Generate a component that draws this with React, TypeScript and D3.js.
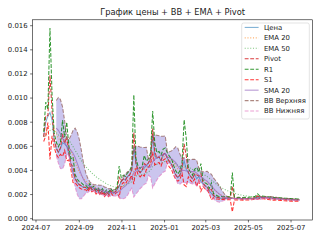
import { useRef, useEffect } from 'react';
import { select, scaleUtc, scaleLinear, line, area, utcDay, utcParse, mean, deviation } from 'd3';

const startDate = '2024-07-12';
const stepDays = 3;

const close = [
    0.0068, 0.0080, 0.0085, 0.0088, 0.0082, 0.0065, 0.0058, 0.0055, 0.0058, 0.0063,
    0.0062, 0.0060, 0.0054, 0.0045, 0.0038, 0.0033, 0.0030, 0.0028, 0.0027, 0.0026,
    0.0026, 0.0024, 0.0027, 0.0024, 0.0025, 0.0022, 0.0024, 0.0021, 0.0023, 0.0020,
    0.0022, 0.0020, 0.0023, 0.0021, 0.0022, 0.0024, 0.0027, 0.0031, 0.0033, 0.0032,
    0.0035, 0.0036, 0.0040, 0.0060, 0.0046, 0.0040, 0.0038, 0.0040, 0.0042, 0.0044,
    0.0046, 0.0050, 0.0070, 0.0052, 0.0050, 0.0051, 0.0048, 0.0053, 0.0054, 0.0050,
    0.0047, 0.0045, 0.0040, 0.0036, 0.0034, 0.0036, 0.0042, 0.0048, 0.0041, 0.0038,
    0.0035, 0.0033, 0.0037, 0.0033, 0.0035, 0.0031, 0.0029, 0.0027, 0.0026, 0.0023,
    0.0021, 0.0019, 0.0018, 0.00175, 0.0017, 0.0017, 0.0017, 0.00168, 0.0017, 0.00168,
    0.0017, 0.00166, 0.00165, 0.00166, 0.00165, 0.00164, 0.00166, 0.00165, 0.00166, 0.00168,
    0.0017, 0.00174, 0.0018, 0.00178, 0.00176, 0.00175, 0.00172, 0.0017, 0.00168, 0.00166,
    0.00164, 0.00165, 0.00163, 0.00162, 0.0016, 0.00159, 0.00158, 0.00157, 0.00156, 0.00155,
    0.00154, 0.00154, 0.00153,
];
const high = [
    0.0072, 0.0102, 0.0091, 0.0189, 0.0110, 0.0072, 0.0064, 0.0060, 0.0064, 0.0089,
    0.0068, 0.0088, 0.0060, 0.0050, 0.0056, 0.0037, 0.0033, 0.0031, 0.0030, 0.0028,
    0.0028, 0.0026, 0.0029, 0.0026, 0.0027, 0.0024, 0.0026, 0.0023, 0.0025, 0.0022,
    0.0024, 0.0022, 0.0025, 0.0023, 0.0024, 0.0026, 0.0051, 0.0034, 0.0036, 0.0035,
    0.0038, 0.0040, 0.0044, 0.0114, 0.0050, 0.0044, 0.0042, 0.0044, 0.0056, 0.0048,
    0.0050, 0.0055, 0.0094, 0.0066, 0.0055, 0.0056, 0.0053, 0.0058, 0.0059, 0.0055,
    0.0052, 0.0050, 0.0044, 0.0040, 0.0037, 0.0040, 0.0047, 0.0096, 0.0078, 0.0042,
    0.0039, 0.0036, 0.0041, 0.0046, 0.0039, 0.0052, 0.0032, 0.0030, 0.0029, 0.0025,
    0.0033, 0.0021, 0.0020, 0.0019, 0.00185, 0.00185, 0.00185, 0.0018, 0.00185, 0.0018,
    0.0048, 0.00178, 0.00176, 0.00178, 0.00176, 0.00175, 0.00178, 0.00176, 0.00178, 0.0018,
    0.00182, 0.00186, 0.00215, 0.0019, 0.00188, 0.00186, 0.00184, 0.00182, 0.0018, 0.00186,
    0.00175, 0.00176, 0.00174, 0.00173, 0.00171, 0.0017, 0.00169, 0.00168, 0.00167, 0.00166,
    0.00165, 0.00164, 0.00163,
];
const low = [
    0.0064, 0.0074, 0.0080, 0.0080, 0.0076, 0.0060, 0.0054, 0.0051, 0.0054, 0.0059,
    0.0057, 0.0056, 0.0049, 0.0041, 0.0035, 0.0030, 0.0028, 0.0026, 0.0025, 0.0024,
    0.0024, 0.00225, 0.0025, 0.00225, 0.00235, 0.00205, 0.00225, 0.00195, 0.00215, 0.00185,
    0.00205, 0.00185, 0.00215, 0.00195, 0.00205, 0.0022, 0.0025, 0.0028, 0.0030, 0.0029,
    0.0032, 0.0033, 0.0036, 0.0040, 0.0042, 0.0037, 0.0035, 0.0037, 0.0039, 0.0041,
    0.0043, 0.0046, 0.0060, 0.0048, 0.0046, 0.0047, 0.0044, 0.0049, 0.0050, 0.0046,
    0.0043, 0.0041, 0.0036, 0.0033, 0.0031, 0.0033, 0.0038, 0.0042, 0.0038, 0.0035,
    0.0032, 0.0030, 0.0033, 0.0030, 0.0032, 0.0029, 0.0027, 0.0025, 0.0024, 0.0021,
    0.0019, 0.00175, 0.00165, 0.00165, 0.0016, 0.0016, 0.0016, 0.00158, 0.0016, 0.00158,
    0.00155, 0.00156, 0.00155, 0.00156, 0.00155, 0.00154, 0.00156, 0.00155, 0.00156, 0.00158,
    0.0016, 0.00164, 0.0017, 0.00168, 0.00166, 0.00165, 0.00162, 0.0016, 0.00158, 0.00156,
    0.00154, 0.00155, 0.00153, 0.00152, 0.0015, 0.00149, 0.00148, 0.00147, 0.00146, 0.00145,
    0.00144, 0.00145, 0.00144,
];

const xTicks = ['2024-07', '2024-09', '2024-11', '2025-01', '2025-03', '2025-05', '2025-07'];
const yTicks = [0, 0.002, 0.004, 0.006, 0.008, 0.01, 0.012, 0.014, 0.016];
const title = 'График цены + BB + EMA + Pivot';

// Indicators (20 / 50 day windows converted to the 3-day step)
const win = Math.round(20 / stepDays);
function ema(values: number[], span: number) {
    const a = 1 - Math.pow(1 - 2 / (span + 1), stepDays);
    let prev = values[0];
    return values.map((v, i) => (prev = i === 0 ? v : prev + a * (v - prev)));
}
function rolling(values: number[], fn: (w: number[]) => number | undefined) {
    return values.map((_, i) => (i < win - 1 ? null : (fn(values.slice(i - win + 1, i + 1)) as number)));
}
const pivot = close.map((c, i) => (high[i] + low[i] + c) / 3);
const r1 = pivot.map((p, i) => 2 * p - low[i]);
const s1 = pivot.map((p, i) => 2 * p - high[i]);
const ema20 = ema(close, 20);
const ema50 = ema(close, 50);
const sma20 = rolling(close, mean);
const sd20 = rolling(close, deviation);
const bbUpper = sma20.map((m, i) => (m == null ? null : m + 2 * (sd20[i] as number)));
const bbLower = sma20.map((m, i) => (m == null ? null : m - 2 * (sd20[i] as number)));

function App() {
    const svgRef = useRef<SVGSVGElement | null>(null);

    const width = 320;
    const height = 240;
    const left = 32.5;
    const right = 312.7;
    const top = 19.8;
    const bottom = 220;
    const font = 'DejaVu Sans, sans-serif';

    useEffect(() => {
        const svg = select(svgRef.current);
        svg.selectAll('*').remove();

        const parseDay = utcParse('%Y-%m-%d');
        const parseMonth = utcParse('%Y-%m');
        const start = parseDay(startDate) as Date;
        const dates = close.map((_, i) => utcDay.offset(start, i * stepDays));

        const x = scaleUtc()
            .domain([parseDay('2024-06-26') as Date, parseDay('2025-08-01') as Date])
            .range([left, right]);
        const y = scaleLinear().domain([-0.00011, 0.01649]).range([bottom, top]);

        // Bollinger fill
        const band = area<number>()
            .defined((i) => sma20[i] != null)
            .x((i) => x(dates[i]))
            .y0((i) => y(bbLower[i] as number))
            .y1((i) => y(bbUpper[i] as number));
        svg.append('path')
            .attr('d', band(close.map((_, i) => i)) ?? '')
            .attr('fill', '#6a5acd')
            .attr('fill-opacity', 0.35);

        const series = [
            { label: 'Цена', values: close, color: '#1f77b4', dash: '', opacity: 0.6 },
            { label: 'EMA 20', values: ema20, color: '#ff7f0e', dash: '1.04,1.72', opacity: 0.6 },
            { label: 'EMA 50', values: ema50, color: '#2ca02c', dash: '1.04,1.72', opacity: 0.6 },
            { label: 'Pivot', values: pivot, color: '#d62728', dash: '3.85,1.67', opacity: 0.9 },
            { label: 'R1', values: r1, color: 'green', dash: '3.85,1.67', opacity: 0.8 },
            { label: 'S1', values: s1, color: 'red', dash: '3.85,1.67', opacity: 0.8 },
            { label: 'SMA 20', values: sma20, color: '#9467bd', dash: '', opacity: 0.7 },
            { label: 'BB Верхняя', values: bbUpper, color: '#8c564b', dash: '3.85,1.67', opacity: 0.7 },
            { label: 'BB Нижняя', values: bbLower, color: '#e377c2', dash: '3.85,1.67', opacity: 0.7 },
        ];

        const plot = svg.append('g');
        series.forEach((s) => {
            const gen = line<number | null>()
                .defined((d) => d != null)
                .x((d, i) => x(dates[i]))
                .y((d) => y(d as number));
            plot.append('path')
                .attr('d', gen(s.values) ?? '')
                .attr('fill', 'none')
                .attr('stroke', s.color)
                .attr('stroke-opacity', s.opacity)
                .attr('stroke-width', 1.04)
                .attr('stroke-dasharray', s.dash || null);
        });

        // Frame
        svg.append('rect')
            .attr('x', left)
            .attr('y', top)
            .attr('width', right - left)
            .attr('height', bottom - top)
            .attr('fill', 'none')
            .attr('stroke', '#000')
            .attr('stroke-width', 0.56);

        // Y ticks
        const yAxis = svg.append('g');
        yTicks.forEach((t) => {
            yAxis.append('line')
                .attr('x1', left - 2.4)
                .attr('x2', left)
                .attr('y1', y(t))
                .attr('y2', y(t))
                .attr('stroke', '#000')
                .attr('stroke-width', 0.56);
            yAxis.append('text')
                .attr('x', left - 4.9)
                .attr('y', y(t))
                .attr('dy', '0.35em')
                .attr('text-anchor', 'end')
                .attr('font-family', font)
                .attr('font-size', 6.9)
                .attr('fill', '#222')
                .text(t.toFixed(3));
        });

        // X ticks
        const xAxis = svg.append('g');
        xTicks.forEach((t) => {
            const px = x(parseMonth(t) as Date);
            xAxis.append('line')
                .attr('x1', px)
                .attr('x2', px)
                .attr('y1', bottom)
                .attr('y2', bottom + 2.4)
                .attr('stroke', '#000')
                .attr('stroke-width', 0.56);
            xAxis.append('text')
                .attr('x', px)
                .attr('y', bottom + 4.9)
                .attr('dy', '0.76em')
                .attr('text-anchor', 'middle')
                .attr('font-family', font)
                .attr('font-size', 6.9)
                .attr('fill', '#222')
                .text(t);
        });

        // Title
        svg.append('text')
            .attr('x', (left + right) / 2)
            .attr('y', 14.8)
            .attr('text-anchor', 'middle')
            .attr('font-family', font)
            .attr('font-size', 8.3)
            .attr('fill', '#222')
            .text(title);

        // Legend
        const lg = svg.append('g');
        lg.append('rect')
            .attr('x', 241.7)
            .attr('y', 23)
            .attr('width', 67.6)
            .attr('height', 96)
            .attr('rx', 2)
            .attr('fill', '#fff')
            .attr('fill-opacity', 0.8)
            .attr('stroke', '#ccc')
            .attr('stroke-width', 0.56);
        series.forEach((s, i) => {
            const ry = 27.4 + i * 10.46;
            lg.append('line')
                .attr('x1', 244.7)
                .attr('x2', 258.6)
                .attr('y1', ry)
                .attr('y2', ry)
                .attr('stroke', s.color)
                .attr('stroke-opacity', s.opacity)
                .attr('stroke-width', 1.04)
                .attr('stroke-dasharray', s.dash || null);
            lg.append('text')
                .attr('x', 264)
                .attr('y', ry)
                .attr('dy', '0.35em')
                .attr('font-family', font)
                .attr('font-size', 6.9)
                .attr('fill', '#222')
                .text(s.label);
        });
    }, []);

    return (
        <div style={{ position: 'absolute', left: 0, top: 0 }}>
            <svg ref={svgRef} width={width} height={height} style={{ display: 'block' }}></svg>
        </div>
    );
}

export default App;
